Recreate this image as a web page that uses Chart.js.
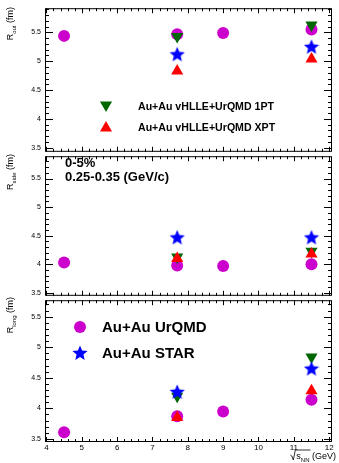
<!DOCTYPE html>
<html>
<head>
<meta charset="utf-8">
<script src="https://cdn.jsdelivr.net/npm/chart.js@4.4.1/dist/chart.umd.min.js"></script>
<style>
  html, body { margin: 0; padding: 0; background: #fff; }
  #wrap { position: relative; width: 339px; height: 463px; overflow: hidden; }
  .panel { position: absolute; left: 0; width: 339px; }
  .panel canvas { display: block; }
</style>
</head>
<body>
<div id="wrap">
  <div class="panel" id="p-out" style="top:0;height:160px"><canvas id="c-out"></canvas></div>
  <div class="panel" id="p-side" style="top:148px;height:156px"><canvas id="c-side"></canvas></div>
  <div class="panel" id="p-long" style="top:292px;height:171px"><canvas id="c-long"></canvas></div>
</div>
<script>
// energies (sqrt(s_NN), GeV)
const ENERGY_URQMD = [4.5, 7.7, 9, 11.5]
const ENERGY_HYDRO = [7.7, 11.5]
const ENERGY_STAR = [7.7, 11.5]

// R_out (fm)
const ROUT_URQMD = [5.44, 5.47, 5.49, 5.55]
const ROUT_1PT = [5.43, 5.63]
const ROUT_XPT = [4.83, 5.04]
const ROUT_STAR = [5.12, 5.25]

// R_side (fm)
const RSIDE_URQMD = [4.03, 3.98, 3.97, 4.0]
const RSIDE_1PT = [4.13, 4.23]
const RSIDE_XPT = [4.1, 4.18]
const RSIDE_STAR = [4.47, 4.47]

// R_long (fm)
const RLONG_URQMD = [3.61, 3.87, 3.95, 4.14]
const RLONG_1PT = [4.2, 4.84]
const RLONG_XPT = [3.85, 4.29]
const RLONG_STAR = [4.27, 4.65]

const X_TICKS = [4, 5, 6, 7, 8, 9, 10, 11, 12]
const Y_TICKS = [3.5, 4, 4.5, 5, 5.5]

const C_URQMD = '#cc00cc'
const C_1PT = '#006600'
const C_XPT = '#ff0000'
const C_STAR = '#0000ff'
const FONT = '"Liberation Sans", Arial, Helvetica, sans-serif'

// filled 5-point star (ROOT marker 29)
function makeStar(size, color) {
  const c = document.createElement('canvas')
  c.width = size
  c.height = size
  const ctx = c.getContext('2d')
  const cx = size / 2, cy = size / 2 + 0.5
  const ro = size / 2, ri = ro * 0.45
  ctx.beginPath()
  for (let i = 0; i < 10; i++) {
    const r = i % 2 ? ri : ro
    const a = -Math.PI / 2 + i * Math.PI / 5
    const px = cx + r * Math.cos(a), py = cy + r * Math.sin(a)
    if (i) ctx.lineTo(px, py)
    else ctx.moveTo(px, py)
  }
  ctx.closePath()
  ctx.fillStyle = color
  ctx.fill()
  return c
}
const STAR_IMG = makeStar(16, C_STAR)

const pts = (xs, ys) => xs.map((x, i) => ({ x, y: ys[i] }))

function datasets(urqmd, pt1, xpt, star) {
  return [
    { label: 'Au+Au UrQMD', data: pts(ENERGY_URQMD, urqmd), pointStyle: 'circle', pointRadius: 6,
      backgroundColor: C_URQMD, borderColor: C_URQMD, borderWidth: 0, order: 4 },
    { label: 'Au+Au vHLLE+UrQMD 1PT', data: pts(ENERGY_HYDRO, pt1), pointStyle: 'triangle', rotation: 180,
      pointRadius: 7, backgroundColor: C_1PT, borderColor: C_1PT, borderWidth: 0, order: 3 },
    { label: 'Au+Au vHLLE+UrQMD XPT', data: pts(ENERGY_HYDRO, xpt), pointStyle: 'triangle',
      pointRadius: 7, backgroundColor: C_XPT, borderColor: C_XPT, borderWidth: 0, order: 2 },
    { label: 'Au+Au STAR', data: pts(ENERGY_STAR, star), pointStyle: STAR_IMG,
      backgroundColor: C_STAR, borderColor: C_STAR, order: 1 },
  ]
}

// ROOT-like frame with inward major/minor ticks on all four sides
const rootFrame = {
  id: 'rootFrame',
  afterDatasetsDraw(chart) {
    const { ctx, chartArea: a, scales } = chart
    const xs = scales.x, ys = scales.y
    ctx.save()
    ctx.strokeStyle = '#000'
    ctx.lineWidth = 1
    ctx.strokeRect(a.left + 0.5, a.top + 0.5, a.right - a.left - 1, a.bottom - a.top - 1)
    ctx.beginPath()
    for (let v = 3.4; v <= 6.0001; v += 0.1) {
      const val = Math.round(v * 10) / 10
      if (val < ys.min || val > ys.max) continue
      const y = Math.round(ys.getPixelForValue(val)) + 0.5
      const major = Math.abs(val * 2 - Math.round(val * 2)) < 1e-6
      const len = major ? 8 : 4
      ctx.moveTo(a.left, y); ctx.lineTo(a.left + len, y)
      ctx.moveTo(a.right, y); ctx.lineTo(a.right - len, y)
    }
    for (let v = 3.8; v <= 12.2001; v += 0.2) {
      const val = Math.round(v * 10) / 10
      if (val < xs.min || val > xs.max) continue
      const x = Math.round(xs.getPixelForValue(val)) + 0.5
      const major = Math.abs(val - Math.round(val)) < 1e-6
      const len = major ? 5 : 3
      ctx.moveTo(x, a.bottom); ctx.lineTo(x, a.bottom - len)
      ctx.moveTo(x, a.top); ctx.lineTo(x, a.top + len)
    }
    ctx.stroke()
    ctx.restore()
  },
}

// rotated y title with subscript, right-aligned to the top of the axis
function drawYTitle(ctx, x, yEnd, sub) {
  ctx.save()
  ctx.translate(x, yEnd)
  ctx.rotate(-Math.PI / 2)
  ctx.fillStyle = '#000'
  ctx.textBaseline = 'alphabetic'
  const big = `9px ${FONT}`, small = `6px ${FONT}`
  ctx.font = big
  const wR = ctx.measureText('R').width
  const wFm = ctx.measureText(' (fm)').width
  ctx.font = small
  const wSub = ctx.measureText(sub).width
  let cx = -(wR + wSub + wFm)
  ctx.font = big
  ctx.fillText('R', cx, 0)
  cx += wR
  ctx.font = small
  ctx.fillText(sub, cx, 2.5)
  cx += wSub
  ctx.font = big
  ctx.fillText(' (fm)', cx, 0)
  ctx.restore()
}

function legendMarker(ctx, style, x, y, color, radius, rotation) {
  ctx.save()
  ctx.fillStyle = color
  ctx.strokeStyle = color
  ctx.lineWidth = 0
  if (style === 'img') {
    ctx.drawImage(STAR_IMG, x - STAR_IMG.width / 2, y - STAR_IMG.height / 2)
  } else {
    Chart.helpers.drawPoint(ctx, { pointStyle: style, radius, rotation, borderWidth: 0 }, x, y)
  }
  ctx.restore()
}

function makeChart(id, yData, opts) {
  const canvas = /** @type {HTMLCanvasElement} */ (document.getElementById(id))
  const extras = {
    id: 'extras',
    afterDraw(chart) {
      const ctx = chart.ctx
      drawYTitle(ctx, opts.titleX, opts.titleEnd, opts.sub)
      if (opts.annotate) opts.annotate(ctx)
    },
  }
  return new Chart(canvas, {
    type: 'scatter',
    data: { datasets: datasets(...yData) },
    options: {
      animation: false,
      responsive: true,
      maintainAspectRatio: false,
      layout: { padding: { top: opts.padTop, bottom: opts.padBottom, left: 0, right: 4 } },
      scales: {
        x: {
          type: 'linear',
          min: 3.96,
          max: 12.08,
          display: opts.showX,
          grid: { display: false, drawTicks: false },
          border: { display: false },
          afterFit: (s) => { s.height = opts.showX ? 10 : 0 },
          afterBuildTicks: (s) => { s.ticks = X_TICKS.map((v) => ({ value: v })) },
          ticks: { color: '#000', font: { family: FONT, size: 8 }, padding: 1, maxRotation: 0, callback: (v) => String(v) },
        },
        y: {
          type: 'linear',
          min: opts.yMin,
          max: opts.yMax,
          grid: { display: false, drawTicks: false },
          border: { display: false },
          afterFit: (s) => { s.width = 45 },
          afterBuildTicks: (s) => { s.ticks = Y_TICKS.map((v) => ({ value: v })) },
          ticks: { color: '#000', font: { family: FONT, size: 7 }, padding: 4, callback: (v) => String(v) },
        },
      },
      plugins: { legend: { display: false }, tooltip: { enabled: false } },
    },
    plugins: [rootFrame, extras],
  })
}

// panel 1: R_out (chart area y 8..154)
makeChart('c-out', [ROUT_URQMD, ROUT_1PT, ROUT_XPT, ROUT_STAR], {
  yMin: 3.43, yMax: 5.92, padTop: 8, padBottom: 6, showX: false,
  titleX: 13, titleEnd: 7, sub: 'out',
  annotate(ctx) {
    ctx.save()
    legendMarker(ctx, 'triangle', 106, 105, C_1PT, 7, 180)
    legendMarker(ctx, 'triangle', 106, 128, C_XPT, 7, 0)
    ctx.fillStyle = '#000'
    ctx.font = `bold 10.6px ${FONT}`
    ctx.textBaseline = 'middle'
    ctx.fillText('Au+Au vHLLE+UrQMD 1PT', 138, 107)
    ctx.fillText('Au+Au vHLLE+UrQMD XPT', 138, 128)
    ctx.restore()
  },
})

// panel 2: R_side (chart area y 154..298)
makeChart('c-side', [RSIDE_URQMD, RSIDE_1PT, RSIDE_XPT, RSIDE_STAR], {
  yMin: 3.45, yMax: 5.89, padTop: 6, padBottom: 6, showX: false,
  titleX: 13, titleEnd: 6, sub: 'side',
  annotate(ctx) {
    ctx.save()
    ctx.fillStyle = '#000'
    ctx.font = `bold 13px ${FONT}`
    ctx.textBaseline = 'middle'
    ctx.fillText('0-5%', 65, 15)
    ctx.fillText('0.25-0.35 (GeV/c)', 65, 29)
    ctx.restore()
  },
})

// panel 3: R_long (chart area y 298..442)
makeChart('c-long', [RLONG_URQMD, RLONG_1PT, RLONG_XPT, RLONG_STAR], {
  yMin: 3.45, yMax: 5.77, padTop: 6, padBottom: 11, showX: true,
  titleX: 13, titleEnd: 5, sub: 'long',
  annotate(ctx) {
    ctx.save()
    legendMarker(ctx, 'circle', 80, 35, C_URQMD, 6, 0)
    legendMarker(ctx, 'img', 80, 61, C_STAR, 7, 0)
    ctx.fillStyle = '#000'
    ctx.font = `bold 15px ${FONT}`
    ctx.textBaseline = 'middle'
    ctx.fillText('Au+Au UrQMD', 102, 36)
    ctx.fillText('Au+Au STAR', 102, 62)
    // x-axis title: sqrt(s_NN) (GeV), right-aligned
    const y = 167
    ctx.font = `9px ${FONT}`
    ctx.textBaseline = 'alphabetic'
    const tail = ' (GeV)'
    const wTail = ctx.measureText(tail).width
    const wS = ctx.measureText('s').width
    ctx.font = `6px ${FONT}`
    const wNN = ctx.measureText('NN').width
    let x = 336 - wTail - wNN - wS
    // radical sign
    ctx.strokeStyle = '#000'
    ctx.lineWidth = 0.8
    ctx.beginPath()
    ctx.moveTo(x - 6, y - 4)
    ctx.lineTo(x - 4.5, y - 3)
    ctx.lineTo(x - 3, y + 1)
    ctx.lineTo(x - 1, y - 9)
    ctx.lineTo(x + wS + wNN + 1, y - 9)
    ctx.stroke()
    ctx.font = `9px ${FONT}`
    ctx.fillText('s', x, y)
    x += wS
    ctx.font = `6px ${FONT}`
    ctx.fillText('NN', x, y + 2.5)
    x += wNN
    ctx.font = `9px ${FONT}`
    ctx.fillText(tail, x, y)
    ctx.restore()
  },
})
</script>
</body>
</html>
